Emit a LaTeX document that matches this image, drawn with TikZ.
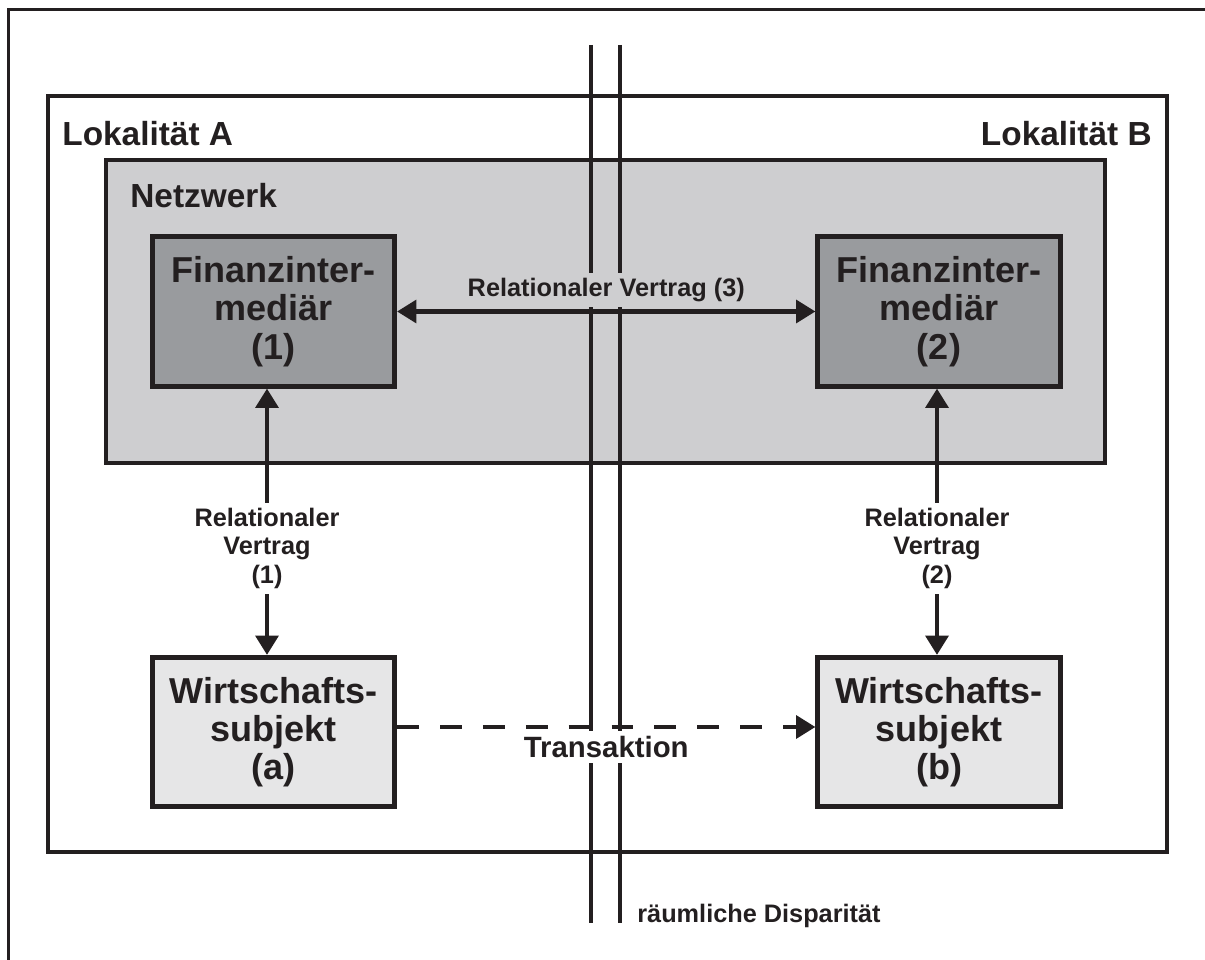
\documentclass[tikz,border=0pt]{standalone}
\usepackage{fontspec}
\setmainfont{Liberation Sans}
\usetikzlibrary{arrows.meta}
\definecolor{ink}{RGB}{35,31,32}
\definecolor{netzgrau}{RGB}{206,206,208}
\definecolor{fingrau}{RGB}{153,155,158}
\definecolor{wirtgrau}{RGB}{230,230,231}
\begin{document}
\begin{tikzpicture}[x=0.2mm,y=-0.2mm,
  every node/.style={text=ink},
  kasten/.style={draw=ink,line width=2.7pt,minimum width=48.5mm,minimum height=29.9mm,
    align=center,font=\bfseries\fontsize{20.5}{21.8}\selectfont},
  titel/.style={anchor=base west,inner sep=0pt,font=\bfseries\fontsize{19}{22}\selectfont},
  klein/.style={align=center,font=\bfseries\fontsize{14.4}{16}\selectfont},
  pfeil/.style={draw=ink,line width=2.3pt,-{Triangle[length=11pt,width=13pt]}},
  rahmen/.style={draw=ink,line width=2pt}]
  \useasboundingbox (0,0) rectangle (1205,960);
  % aeusserer Rahmen und Lokalitaeten
  \draw[rahmen] (8.5,965) -- (8.5,9.5) -- (1210,9.5);
  \draw[rahmen,fill=white] (48,96) rectangle (1167,852);
  \draw[rahmen,fill=netzgrau] (106,160) rectangle (1105,463);
  \node[titel] (lokA) at (62,146) {Lokalität A};
  \node[titel,anchor=base east] (lokB) at (1152,146) {Lokalität B};
  \node[titel] (netz) at (130,208) {Netzwerk};
  % raeumliche Disparitaet
  \foreach \x in {591,620}
    \draw[ink,line width=2.2pt] (\x,45) -- (\x,923);
  \node[klein,anchor=base west,inner sep=0pt] (disp) at (637,922) {räumliche Disparität};
  % Finanzintermediaere und Wirtschaftssubjekte
  \node[kasten,fill=fingrau] (fin1) at (273.5,311.5) {Finanzinter-\\mediär\\(1)};
  \node[kasten,fill=fingrau] (fin2) at (939,311.5) {Finanzinter-\\mediär\\(2)};
  \node[kasten,fill=wirtgrau] (wa) at (273.5,732) {Wirtschafts-\\subjekt\\(a)};
  \node[kasten,fill=wirtgrau] (wb) at (939,732) {Wirtschafts-\\subjekt\\(b)};
  % Vertraege
  \draw[pfeil,{Triangle[length=11pt,width=13pt]}-{Triangle[length=11pt,width=13pt]}] (fin1) --
    node[klein,above=1.2pt,fill=netzgrau,inner sep=3pt] (v3) {Relationaler Vertrag (3)} (fin2);
  \draw[pfeil,{Triangle[length=11pt,width=13pt]}-{Triangle[length=11pt,width=13pt]}]
    ([xshift=-1.3mm]fin1.south) --
    node[klein,pos=0.6,fill=white,inner sep=3pt] (v1) {Relationaler\\Vertrag\\(1)} ([xshift=-1.3mm]wa.north);
  \draw[pfeil,{Triangle[length=11pt,width=13pt]}-{Triangle[length=11pt,width=13pt]}]
    ([xshift=-0.4mm]fin2.south) --
    node[klein,pos=0.6,fill=white,inner sep=3pt] (v2) {Relationaler\\Vertrag\\(2)} ([xshift=-0.4mm]wb.north);
  \draw[pfeil,dash pattern=on 12.4pt off 12pt] ([yshift=1mm]wa.east) --
    node[below=1.2pt,fill=white,inner sep=3pt,font=\bfseries\fontsize{16.7}{19}\selectfont] (tr) {Transaktion}
    ([yshift=1mm]wb.west);
\end{tikzpicture}
\end{document}
